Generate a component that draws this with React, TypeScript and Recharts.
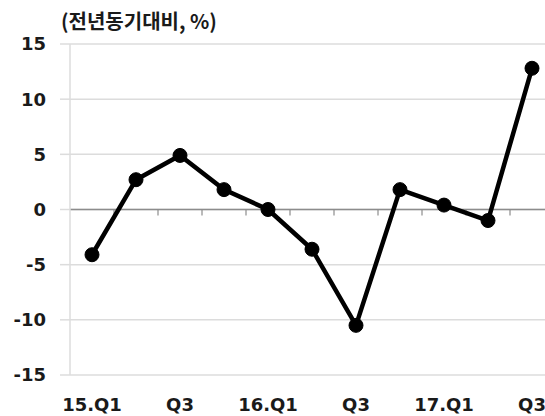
import { CartesianGrid, Line, LineChart, ReferenceLine, XAxis, YAxis } from "recharts";

const quarters = ["15.Q1", "Q2", "Q3", "Q4", "16.Q1", "Q2", "Q3", "Q4", "17.Q1", "Q2", "Q3"];
const growth = [-4.1, 2.7, 4.9, 1.8, 0.0, -3.6, -10.5, 1.8, 0.4, -1.0, 12.8];
const yTicks = [-15, -10, -5, 0, 5, 10, 15];

const data = quarters.map((q, i) => ({ q, value: growth[i] }));

const labelFont = "'DejaVu Sans', sans-serif";

// zero line with small tick marks at each category boundary
function ZeroAxis(props: any) {
  const { x1, y1, x2, y2 } = props;
  if ([x1, y1, x2, y2].some((v) => typeof v !== "number")) return <g />;
  const step = (x2 - x1) / quarters.length;
  const marks = [];
  for (let i = 1; i <= quarters.length; i++) {
    const x = x1 + step * i;
    marks.push(<line key={i} x1={x} y1={y1} x2={x} y2={y1 + 6} stroke="#8c8c8c" strokeWidth={1.2} />);
  }
  return (
    <g>
      <line x1={x1} y1={y1} x2={x2} y2={y2} stroke="#8c8c8c" strokeWidth={1.5} />
      {marks}
    </g>
  );
}

export default function App() {
  return (
    <div
      style={{
        position: "absolute",
        left: 0,
        top: 0,
        width: 545,
        height: 416,
        overflow: "hidden",
        background: "#fff",
      }}
    >
      <div
        style={{
          position: "absolute",
          left: 61,
          top: 7,
          fontFamily: "'Noto Sans CJK KR', sans-serif",
          fontWeight: 700,
          fontSize: 20,
          color: "#1a1a1a",
          lineHeight: "28px",
        }}
      >
        (전년동기대비, %)
      </div>
      <LineChart width={560} height={416} data={data} margin={{ top: 44, right: 6, left: 0, bottom: 0 }}>
        <CartesianGrid vertical={false} stroke="#dcdcdc" strokeWidth={1.5} />
        <XAxis
          dataKey="q"
          interval={1}
          height={41}
          padding={{ left: 22, right: 22 }}
          axisLine={false}
          tickLine={false}
          tickSize={0}
          tickMargin={23}
          tick={{ fill: "#1a1a1a", fontSize: 18, fontWeight: 700, fontFamily: labelFont }}
        />
        <YAxis
          domain={[-15, 15]}
          ticks={yTicks}
          width={70}
          axisLine={{ stroke: "#dcdcdc", strokeWidth: 1.5 }}
          tickLine={{ stroke: "#dcdcdc", strokeWidth: 1.5 }}
          tickSize={10}
          tickMargin={14}
          tick={{ fill: "#1a1a1a", fontSize: 18, fontWeight: 700, fontFamily: labelFont }}
        />
        <ReferenceLine y={0} shape={ZeroAxis} />
        <Line
          dataKey="value"
          stroke="#000"
          strokeWidth={4.5}
          dot={{ r: 7, fill: "#000", stroke: "#000", strokeWidth: 1 }}
          isAnimationActive={false}
        />
      </LineChart>
    </div>
  );
}
